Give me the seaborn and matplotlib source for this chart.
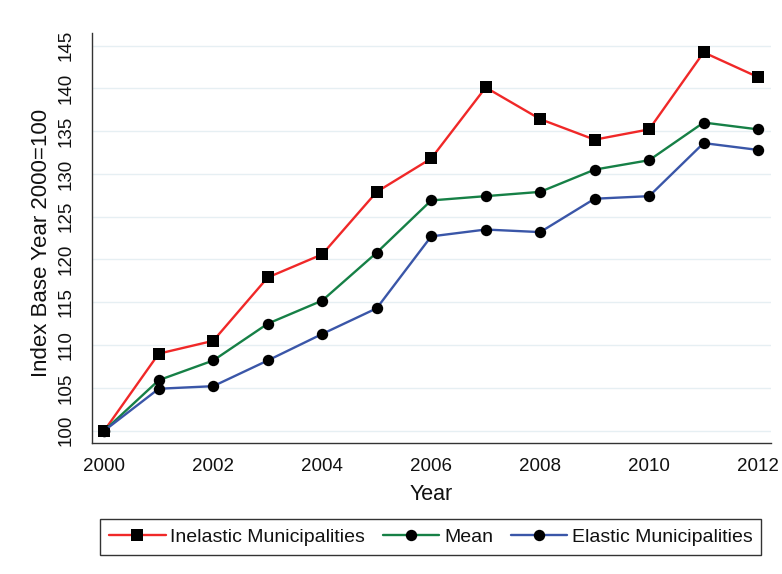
import matplotlib
matplotlib.use("Agg")
import matplotlib.pyplot as plt
import seaborn as sns
import pandas as pd

# Price index by municipality group, base year 2000 = 100
years = [2000, 2001, 2002, 2003, 2004, 2005, 2006, 2007, 2008, 2009, 2010, 2011, 2012]
inelastic = [100.0, 109.0, 110.5, 117.9, 120.6, 127.9, 131.8, 140.1, 136.4, 134.0, 135.2, 144.2, 141.3]
mean_idx = [100.0, 105.9, 108.2, 112.5, 115.2, 120.8, 126.9, 127.4, 127.9, 130.5, 131.6, 136.0, 135.2]
elastic = [100.0, 104.9, 105.2, 108.2, 111.3, 114.3, 122.7, 123.5, 123.2, 127.1, 127.4, 133.6, 132.8]

series_names = ["Inelastic Municipalities", "Mean", "Elastic Municipalities"]
series_values = [inelastic, mean_idx, elastic]
series_colors = ["#f02828", "#168046", "#3a56a8"]
series_markers = ["s", "o", "o"]
marker_sizes = [8.0, 8.2, 8.2]

x_ticks = [2000, 2002, 2004, 2006, 2008, 2010, 2012]
y_ticks = [100, 105, 110, 115, 120, 125, 130, 135, 140, 145]

df = pd.concat(
    [pd.DataFrame({"Year": years, "Index": vals, "Group": name})
     for name, vals in zip(series_names, series_values)],
    ignore_index=True,
)

sns.set_style("white")
plt.rcParams["font.family"] = ["Liberation Sans", "DejaVu Sans"]

fig = plt.figure(figsize=(7.82, 5.74), dpi=100)
ax = fig.add_axes([0.1173, 0.2288, 0.8682, 0.7137])

for name, color, mk, ms in zip(series_names, series_colors, series_markers, marker_sizes):
    sub = df[df["Group"] == name]
    sns.lineplot(
        data=sub, x="Year", y="Index", ax=ax, color=color, linewidth=1.7,
        marker=mk, markersize=ms, markerfacecolor="black", markeredgecolor="black",
        markeredgewidth=0, label=name, legend=False,
    )

ax.set_xlim(1999.77, 2012.23)
ax.set_ylim(98.6, 146.46)
ax.set_xticks(x_ticks)
ax.set_yticks(y_ticks)
ax.set_xticklabels([str(t) for t in x_ticks])
ax.set_yticklabels([str(t) for t in y_ticks], rotation=90, va="center")

ax.grid(axis="y", color="#e6eff3", linewidth=1.0)
ax.grid(axis="x", visible=False)
ax.set_axisbelow(True)

for side in ["top", "right"]:
    ax.spines[side].set_visible(False)
for side in ["left", "bottom"]:
    ax.spines[side].set_color("#333333")
    ax.spines[side].set_linewidth(1.0)

ax.tick_params(axis="both", which="major", direction="out", length=5, width=1,
               color="#333333", labelsize=13.5, labelcolor="#111111")
ax.tick_params(axis="y", pad=7)
ax.tick_params(axis="x", pad=6)

ax.set_xlabel("Year", fontsize=15.5, color="#111111")
ax.set_ylabel("Index Base Year 2000=100", fontsize=16, color="#111111")
ax.xaxis.set_label_coords(0.4997, -0.102)
ax.yaxis.set_label_coords(-0.0585, 0.488)

handles, labels = ax.get_legend_handles_labels()
leg = fig.legend(
    handles, labels, loc="center", bbox_to_anchor=(0.551, 0.0645), ncol=3,
    fontsize=14, frameon=True, fancybox=False, edgecolor="black",
    handlelength=2.9, handletextpad=0.25, columnspacing=0.9, borderpad=0.45,
    borderaxespad=0,
)
leg.get_frame().set_linewidth(1.0)
for t in leg.get_texts():
    t.set_color("#111111")

fig.savefig("out.png", dpi=100)
